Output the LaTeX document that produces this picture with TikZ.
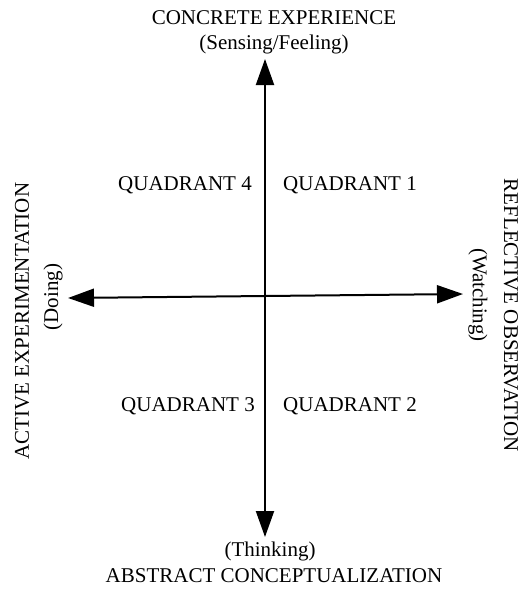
\documentclass[tikz,border=0pt]{standalone}
\usepackage{fontspec}
\setmainfont{Liberation Serif}
\usetikzlibrary{arrows.meta}
\begin{document}
\begin{tikzpicture}[x=1pt,y=-1pt,
  lbl/.style={inner sep=0pt,font=\fontsize{21}{24}\selectfont},
  axis/.style={line width=2pt,-{Triangle[length=26pt,width=18pt]}}]
\useasboundingbox (0,0) rectangle (523,590);
\coordinate (c) at (265,296);
\coordinate (top) at (265,59);
\coordinate (bot) at (265,537);
\coordinate (lft) at (68,298);
\coordinate (rgt) at (463,294);
\draw[axis] (c) -- (top);
\draw[axis] (c) -- (bot);
\draw[axis] (c) -- (lft);
\draw[axis] (c) -- (rgt);
\node[lbl] (ce) at (274,18) {CONCRETE EXPERIENCE};
\node[lbl] (cesub) at (274,44) {(Sensing/Feeling)};
\node[lbl] (th) at (270,551) {(Thinking)};
\node[lbl] (ac) at (274,576) {ABSTRACT CONCEPTUALIZATION};
\node[lbl,rotate=90] (ae) at (22,321) {ACTIVE EXPERIMENTATION};
\node[lbl,rotate=90] (doing) at (53,297) {(Doing)};
\node[lbl,rotate=-90] (ro) at (511,315) {REFLECTIVE OBSERVATION};
\node[lbl,rotate=-90] (wat) at (478,295) {(Watching)};
\node[lbl] (q4) at (185,185) {QUADRANT 4};
\node[lbl] (q1) at (350,185) {QUADRANT 1};
\node[lbl] (q3) at (188,406) {QUADRANT 3};
\node[lbl] (q2) at (350,406) {QUADRANT 2};
\end{tikzpicture}
\end{document}
